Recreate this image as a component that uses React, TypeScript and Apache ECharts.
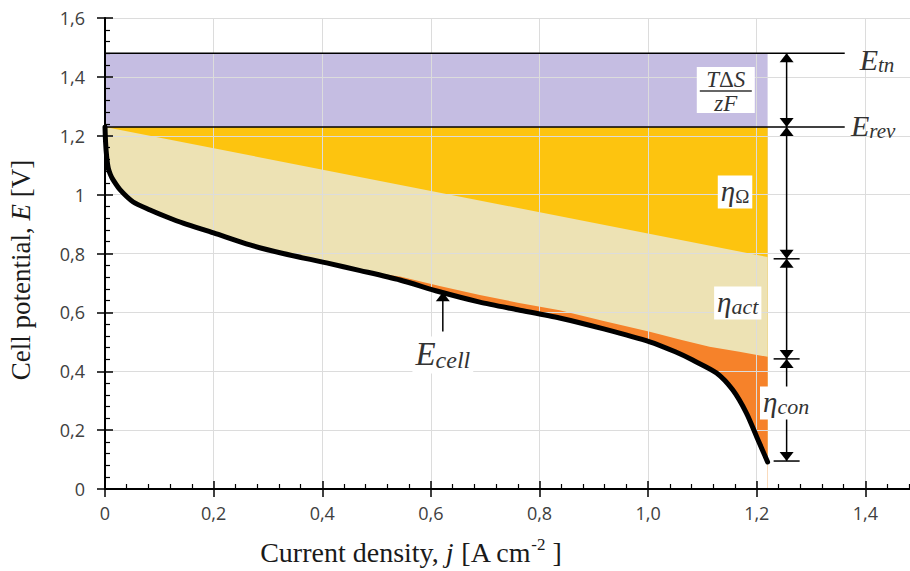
import React, { useEffect, useRef } from 'react';
import * as echarts from 'echarts';

// ---- tick labels ----
const xTickLabels = ['0', '0,2', '0,4', '0,6', '0,8', '1,0', '1,2', '1,4', '1,6'];
const yTickLabels = ['0', '0,2', '0,4', '0,6', '0,8', '1', '1,2', '1,4', '1,6'];

// ---- cell voltage curve E_cell(j) ----
const jCell = [0, 0.001, 0.003, 0.006, 0.01, 0.015, 0.028, 0.052, 0.083, 0.114, 0.144, 0.2, 0.267, 0.328, 0.408, 0.47, 0.543, 0.616, 0.69, 0.76, 0.837, 0.92, 1.003, 1.05, 1.082, 1.126, 1.156, 1.181, 1.2, 1.22];
const eCell = [1.23, 1.18, 1.13, 1.09, 1.068, 1.05, 1.016, 0.975, 0.948, 0.924, 0.903, 0.87, 0.829, 0.8, 0.768, 0.742, 0.71, 0.67, 0.635, 0.609, 0.581, 0.543, 0.5, 0.466, 0.438, 0.394, 0.336, 0.258, 0.177, 0.092];

// ---- E_rev - ohmic - activation losses (top of concentration region) ----
const jAct = [0.5, 0.543, 0.616, 0.69, 0.76, 0.837, 0.92, 1.003, 1.06, 1.113, 1.168, 1.22];
const eAct = [0.733, 0.722, 0.69, 0.659, 0.633, 0.607, 0.57, 0.534, 0.507, 0.483, 0.466, 0.449];

// ---- E_rev - ohmic loss (straight line) ----
const jOhm = [0, 1.22];
const eOhm = [1.23, 0.788];

// ---- reference potentials ----
const E_TN = 1.48;
const E_REV = 1.23;
const fillEnd = 1.22;      // right edge of coloured regions
const refLineEnd = 1.362;  // right end of the E_tn / E_rev lines

// ---- dimension arrows ----
const dimJ = 1.255;
const dimLevels = [1.48, 1.23, 0.782, 0.442, 0.095];
const cellArrow = [0.622, 0.535, 0.668]; // j, tail, tip

// ---- annotation labels ----
const labelKeys = ['tn', 'rev', 'frac', 'ohm', 'act', 'con', 'cell'];
const labelJ = [1.384, 1.368, 1.143, 1.16, 1.165, 1.254, 0.622];
const labelE = [1.455, 1.23, 1.355, 1.009, 0.632, 0.292, 0.455];

const SERIF = '"Liberation Serif", "Times New Roman", serif';
const SANS = '"Open Sans", "Noto Sans", sans-serif';
const TXT = '#333333';

const pair = (xs: number[], ys: number[]) => xs.map((x, i) => [x, ys[i]]);

function mathRich(main: number, sub: number) {
  return {
    m: { fontFamily: SERIF, fontStyle: 'italic', fontSize: main, lineHeight: main + 2, fill: TXT },
    s: { fontFamily: SERIF, fontStyle: 'italic', fontSize: sub, lineHeight: 14, verticalAlign: 'bottom', fill: TXT },
    u: { fontFamily: SERIF, fontSize: sub, lineHeight: 14, verticalAlign: 'bottom', fill: TXT },
  };
}

export default function App() {
  const ref = useRef<HTMLDivElement>(null);

  useEffect(() => {
    if (!ref.current) return;
    const chart = echarts.init(ref.current, null, { renderer: 'svg' });

    const fmtX = (v: number) => xTickLabels[Math.round(v / 0.2)] ?? '';
    const fmtY = (v: number) => yTickLabels[Math.round(v / 0.2)] ?? '';

    const mainAxis = (max: number, fmt: (v: number) => string, isX: boolean) => ({
      type: 'value',
      min: 0,
      max,
      interval: 0.2,
      z: 10,
      axisLine: { show: true, onZero: false, lineStyle: { color: '#000', width: 2 } },
      axisTick: { show: true, inside: true, length: 8, lineStyle: { color: '#000', width: 1.5 } },
      minorTick: { show: true, splitNumber: 5, length: 5, lineStyle: { color: '#000', width: 1.2 } },
      splitLine: { show: true, lineStyle: { color: '#dcdcdc', width: 1 } },
      minorSplitLine: { show: false },
      axisLabel: {
        formatter: fmt,
        fontFamily: SANS,
        fontSize: 18,
        color: '#404040',
        margin: isX ? 15 : 20,
        showMaxLabel: isX ? false : true,
      },
    });
    const outerAxis = (max: number, pos: string) => ({
      type: 'value',
      min: 0,
      max,
      interval: 0.2,
      position: pos,
      z: 10,
      axisLine: { show: false, onZero: false },
      axisTick: { show: true, inside: false, length: 8, lineStyle: { color: '#000', width: 1.5 } },
      axisLabel: { show: false },
      splitLine: { show: false },
    });

    const area = (data: number[][], color: string, z: number) => ({
      type: 'line',
      data,
      z,
      symbol: 'none',
      silent: true,
      lineStyle: { width: 0 },
      areaStyle: { color, opacity: 1, origin: 'start' },
    });

    const arrowData: number[][] = [];
    for (let i = 0; i < dimLevels.length - 1; i++) arrowData.push([dimJ, dimLevels[i], dimLevels[i + 1], 0]);
    for (let i = 2; i < dimLevels.length; i++) arrowData.push([dimJ, dimLevels[i], dimLevels[i], 2]);
    arrowData.push([cellArrow[0], cellArrow[1], cellArrow[2], 1]);

    const head = (tip: number[], dir: number) => ({
      type: 'polygon',
      shape: { points: [[tip[0], tip[1]], [tip[0] - 7, tip[1] + dir * 9], [tip[0] + 7, tip[1] + dir * 9]] },
      style: { fill: '#000' },
    });

    const labelData = labelKeys.map((k, i) => [labelJ[i], labelE[i], i]);

    const option: any = {
      animation: false,
      backgroundColor: '#ffffff',
      grid: { left: 105, width: 869, top: 18, height: 471, containLabel: false, outerBoundsMode: 'none' },
      xAxis: [mainAxis(1.6, fmtX, true), outerAxis(1.6, 'bottom')],
      yAxis: [mainAxis(1.6, fmtY, false), outerAxis(1.6, 'left')],
      graphic: [
        {
          type: 'text',
          x: 21,
          y: 270,
          rotation: Math.PI / 2,
          style: {
            text: '{a|Cell potential, }{i|E}{a| [V]}',
            align: 'center',
            verticalAlign: 'middle',
            rich: {
              a: { fontFamily: SERIF, fontSize: 27, fill: '#1a1a1a' },
              i: { fontFamily: SERIF, fontStyle: 'italic', fontSize: 27, fill: '#1a1a1a' },
            },
          },
        },
        {
          type: 'text',
          x: 411,
          y: 552,
          style: {
            text: '{a|Current density, }{i|j}{a| [A cm}{sup|-2}{a| ]}',
            align: 'center',
            verticalAlign: 'middle',
            rich: {
              a: { fontFamily: SERIF, fontSize: 28, lineHeight: 32, fill: '#1a1a1a' },
              i: { fontFamily: SERIF, fontStyle: 'italic', fontSize: 28, lineHeight: 32, fill: '#1a1a1a' },
              sup: { fontFamily: SERIF, fontSize: 17, lineHeight: 14, verticalAlign: 'top', fill: '#1a1a1a' },
            },
          },
        },
      ],
      series: [
        area([[0, E_TN], [fillEnd, E_TN]], '#c5bde2', 1),
        area([[0, E_REV], [fillEnd, E_REV]], '#fdc40f', 2),
        area(pair(jOhm, eOhm), '#ede2b4', 3),
        area(pair(jAct, eAct), '#f6822a', 4),
        { ...area(pair(jCell, eCell), '#ffffff', 5), smooth: 0.25 },
        {
          type: 'line', data: [[0, E_TN], [refLineEnd, E_TN]], z: 11, symbol: 'none', silent: true,
          lineStyle: { color: '#000', width: 1.5 },
        },
        {
          type: 'line', data: [[0, E_REV], [refLineEnd, E_REV]], z: 11, symbol: 'none', silent: true,
          lineStyle: { color: '#000', width: 1.5 },
        },
        {
          type: 'line', data: pair(jCell, eCell), z: 11, symbol: 'none', silent: true, smooth: 0.25,
          lineStyle: { color: '#000', width: 5, cap: 'round' },
        },
        {
          type: 'custom',
          z: 12,
          silent: true,
          data: arrowData,
          renderItem: (params: any, api: any) => {
            const j = api.value(0);
            const a = api.value(1);
            const b = api.value(2);
            const kind = api.value(3);
            const pa = api.coord([j, a]);
            const pb = api.coord([j, b]);
            if (kind === 2) {
              return {
                type: 'line',
                shape: { x1: pa[0] - 13, y1: pa[1], x2: pa[0] + 13, y2: pa[1] },
                style: { stroke: '#000', lineWidth: 1.5 },
              };
            }
            const d = Math.sign(pb[1] - pa[1]);
            const children: any[] = [
              { type: 'line', shape: { x1: pa[0], y1: pa[1], x2: pb[0], y2: pb[1] }, style: { stroke: '#000', lineWidth: 1.5 } },
              head(pb, -d),
            ];
            if (kind === 0) children.push(head(pa, d));
            return { type: 'group', children };
          },
        },
        {
          type: 'custom',
          z: 13,
          silent: true,
          data: labelData,
          renderItem: (params: any, api: any) => {
            const p = api.coord([api.value(0), api.value(1)]);
            const key = labelKeys[api.value(2)];
            const boxed = (text: string, main: number, sub: number, align = 'center', bg = true) => ({
              type: 'text',
              x: p[0],
              y: p[1],
              style: {
                text,
                rich: mathRich(main, sub),
                align,
                verticalAlign: 'middle',
                backgroundColor: bg ? '#ffffff' : 'transparent',
                padding: [0, 3, 2, 3],
              },
            });
            switch (key) {
              case 'tn': return boxed('{m|E}{s|tn}', 30, 21, 'left', false);
              case 'rev': return boxed('{m|E}{s|rev}', 30, 21, 'left', false);
              case 'ohm': return boxed('{m|η}{u|Ω}', 29, 19);
              case 'act': return boxed('{m|η}{s|act}', 29, 22);
              case 'con': return boxed('{m|η}{s|con}', 29, 22);
              case 'cell': return boxed('{m|E}{s|cell}', 33, 24);
              case 'frac': {
                const r = {
                  i: { fontFamily: SERIF, fontStyle: 'italic', fontSize: 23, fill: TXT },
                  u: { fontFamily: SERIF, fontSize: 23, fill: TXT },
                };
                return {
                  type: 'group',
                  children: [
                    { type: 'rect', shape: { x: p[0] - 29, y: p[1] - 23, width: 58, height: 46 }, style: { fill: '#fff' } },
                    { type: 'text', x: p[0], y: p[1] - 11, style: { text: '{i|T}{u|Δ}{i|S}', rich: r, align: 'center', verticalAlign: 'middle' } },
                    { type: 'line', shape: { x1: p[0] - 26, y1: p[1] + 1, x2: p[0] + 26, y2: p[1] + 1 }, style: { stroke: TXT, lineWidth: 1.5 } },
                    { type: 'text', x: p[0], y: p[1] + 13, style: { text: '{i|zF}', rich: r, align: 'center', verticalAlign: 'middle' } },
                  ],
                };
              }
            }
            return null;
          },
        },
      ],
    };

    chart.setOption(option);
    return () => chart.dispose();
  }, []);

  return (
    <div
      ref={ref}
      style={{ position: 'fixed', left: 0, top: 0, width: 910, height: 571, background: '#fff' }}
    />
  );
}
